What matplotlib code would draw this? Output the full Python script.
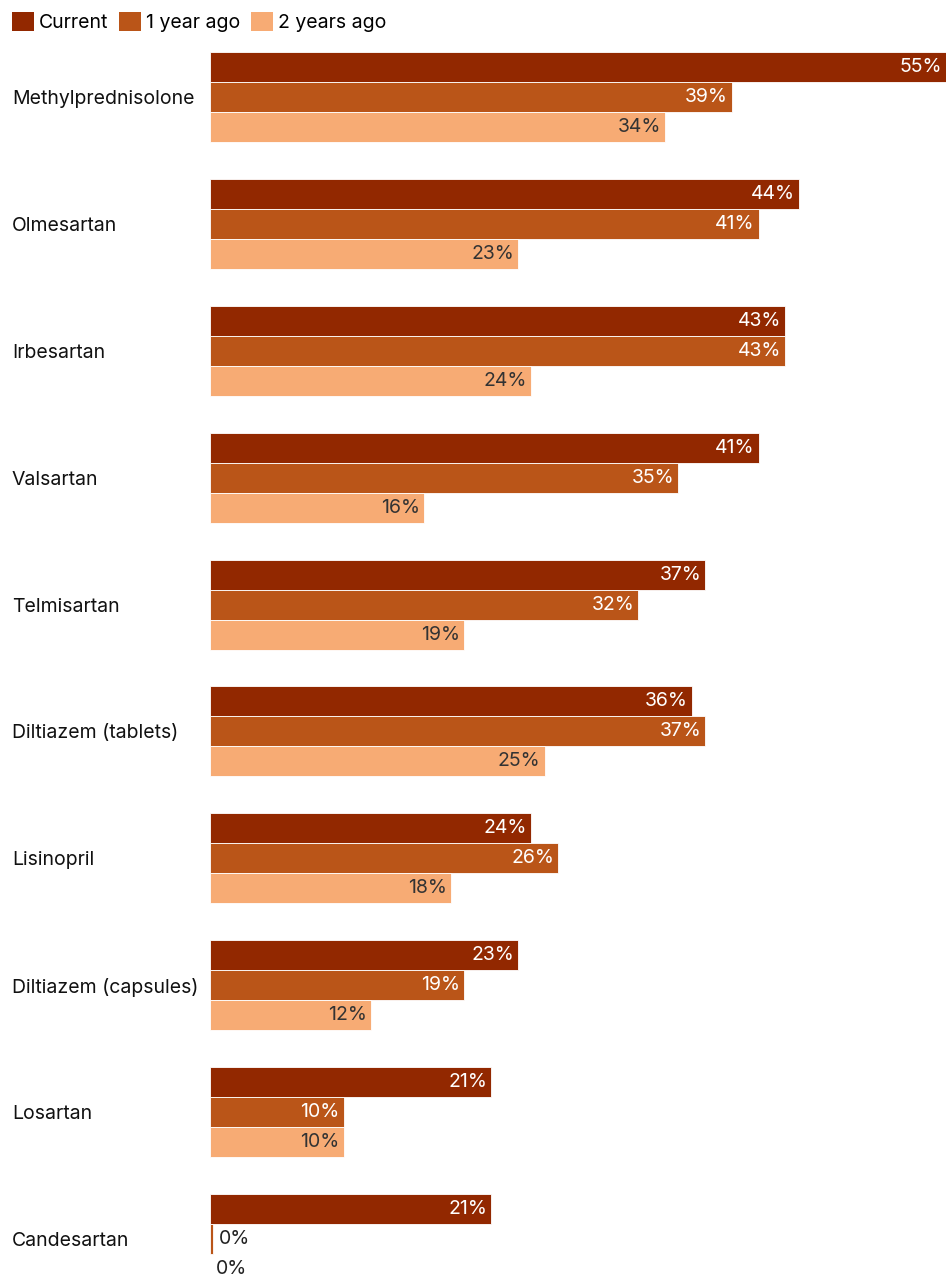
import numpy as np
import matplotlib.pyplot as plt
from matplotlib.patches import Patch

plt.rcParams['font.family'] = ['Inter', 'DejaVu Sans']

drugs = ["Methylprednisolone", "Olmesartan", "Irbesartan", "Valsartan", "Telmisartan",
         "Diltiazem (tablets)", "Lisinopril", "Diltiazem (capsules)", "Losartan", "Candesartan"]
current = [55, 44, 43, 41, 37, 36, 24, 23, 21, 21]
one_year = [39, 41, 43, 35, 32, 37, 26, 19, 10, 0.2]
two_years = [34, 23, 24, 16, 19, 25, 18, 12, 10, 0]

series = ["Current", "1 year ago", "2 years ago"]
colors = ["#922800", "#BA5518", "#F7AB74"]
text_colors = ["white", "white", "#333333"]

W, H = 946, 1281
fig = plt.figure(figsize=(W / 100, H / 100), dpi=100)
ax = fig.add_axes([210 / W, (H - 1284) / H, 736 / W, 1232 / H])

fs = 14
gap = 127 / 30
centers = np.arange(len(drugs)) * gap
for k, (vals, col, tcol) in enumerate(zip([current, one_year, two_years], colors, text_colors)):
    y = centers + (k - 1)
    ax.barh(y, vals, height=1.0, color=col, edgecolor="white", linewidth=0.6)
    for yi, v in zip(y, vals):
        lab = f"{v:.0f}%"
        if v >= 3:
            ax.text(v - 0.3, yi, lab, ha="right", va="center", color=tcol, fontsize=fs)
        else:
            # zero-ish values: label sits just past the bar
            ax.text(v + 0.45, yi, lab, ha="left", va="center", color="#222222", fontsize=fs)

ax.set_xlim(0, 55)
ax.set_ylim(centers[-1] + 1.5, -1.5)
ax.set_yticks(centers)
ax.set_yticklabels(drugs, fontsize=fs, color="#111111", ha="left")
ax.tick_params(axis="y", length=0, pad=(210 - 12) * 0.72)
ax.set_xticks([])
for s in ax.spines.values():
    s.set_visible(False)

handles = [Patch(facecolor=c, edgecolor="none") for c in colors]
fig.legend(handles, series, loc="upper left", bbox_to_anchor=(0.0, 1.0), ncol=3,
           frameon=False, fontsize=fs, handlelength=1.15, handleheight=1.15,
           handletextpad=0.25, columnspacing=0.55, borderaxespad=0.2)

fig.savefig("out.png", dpi=100)
